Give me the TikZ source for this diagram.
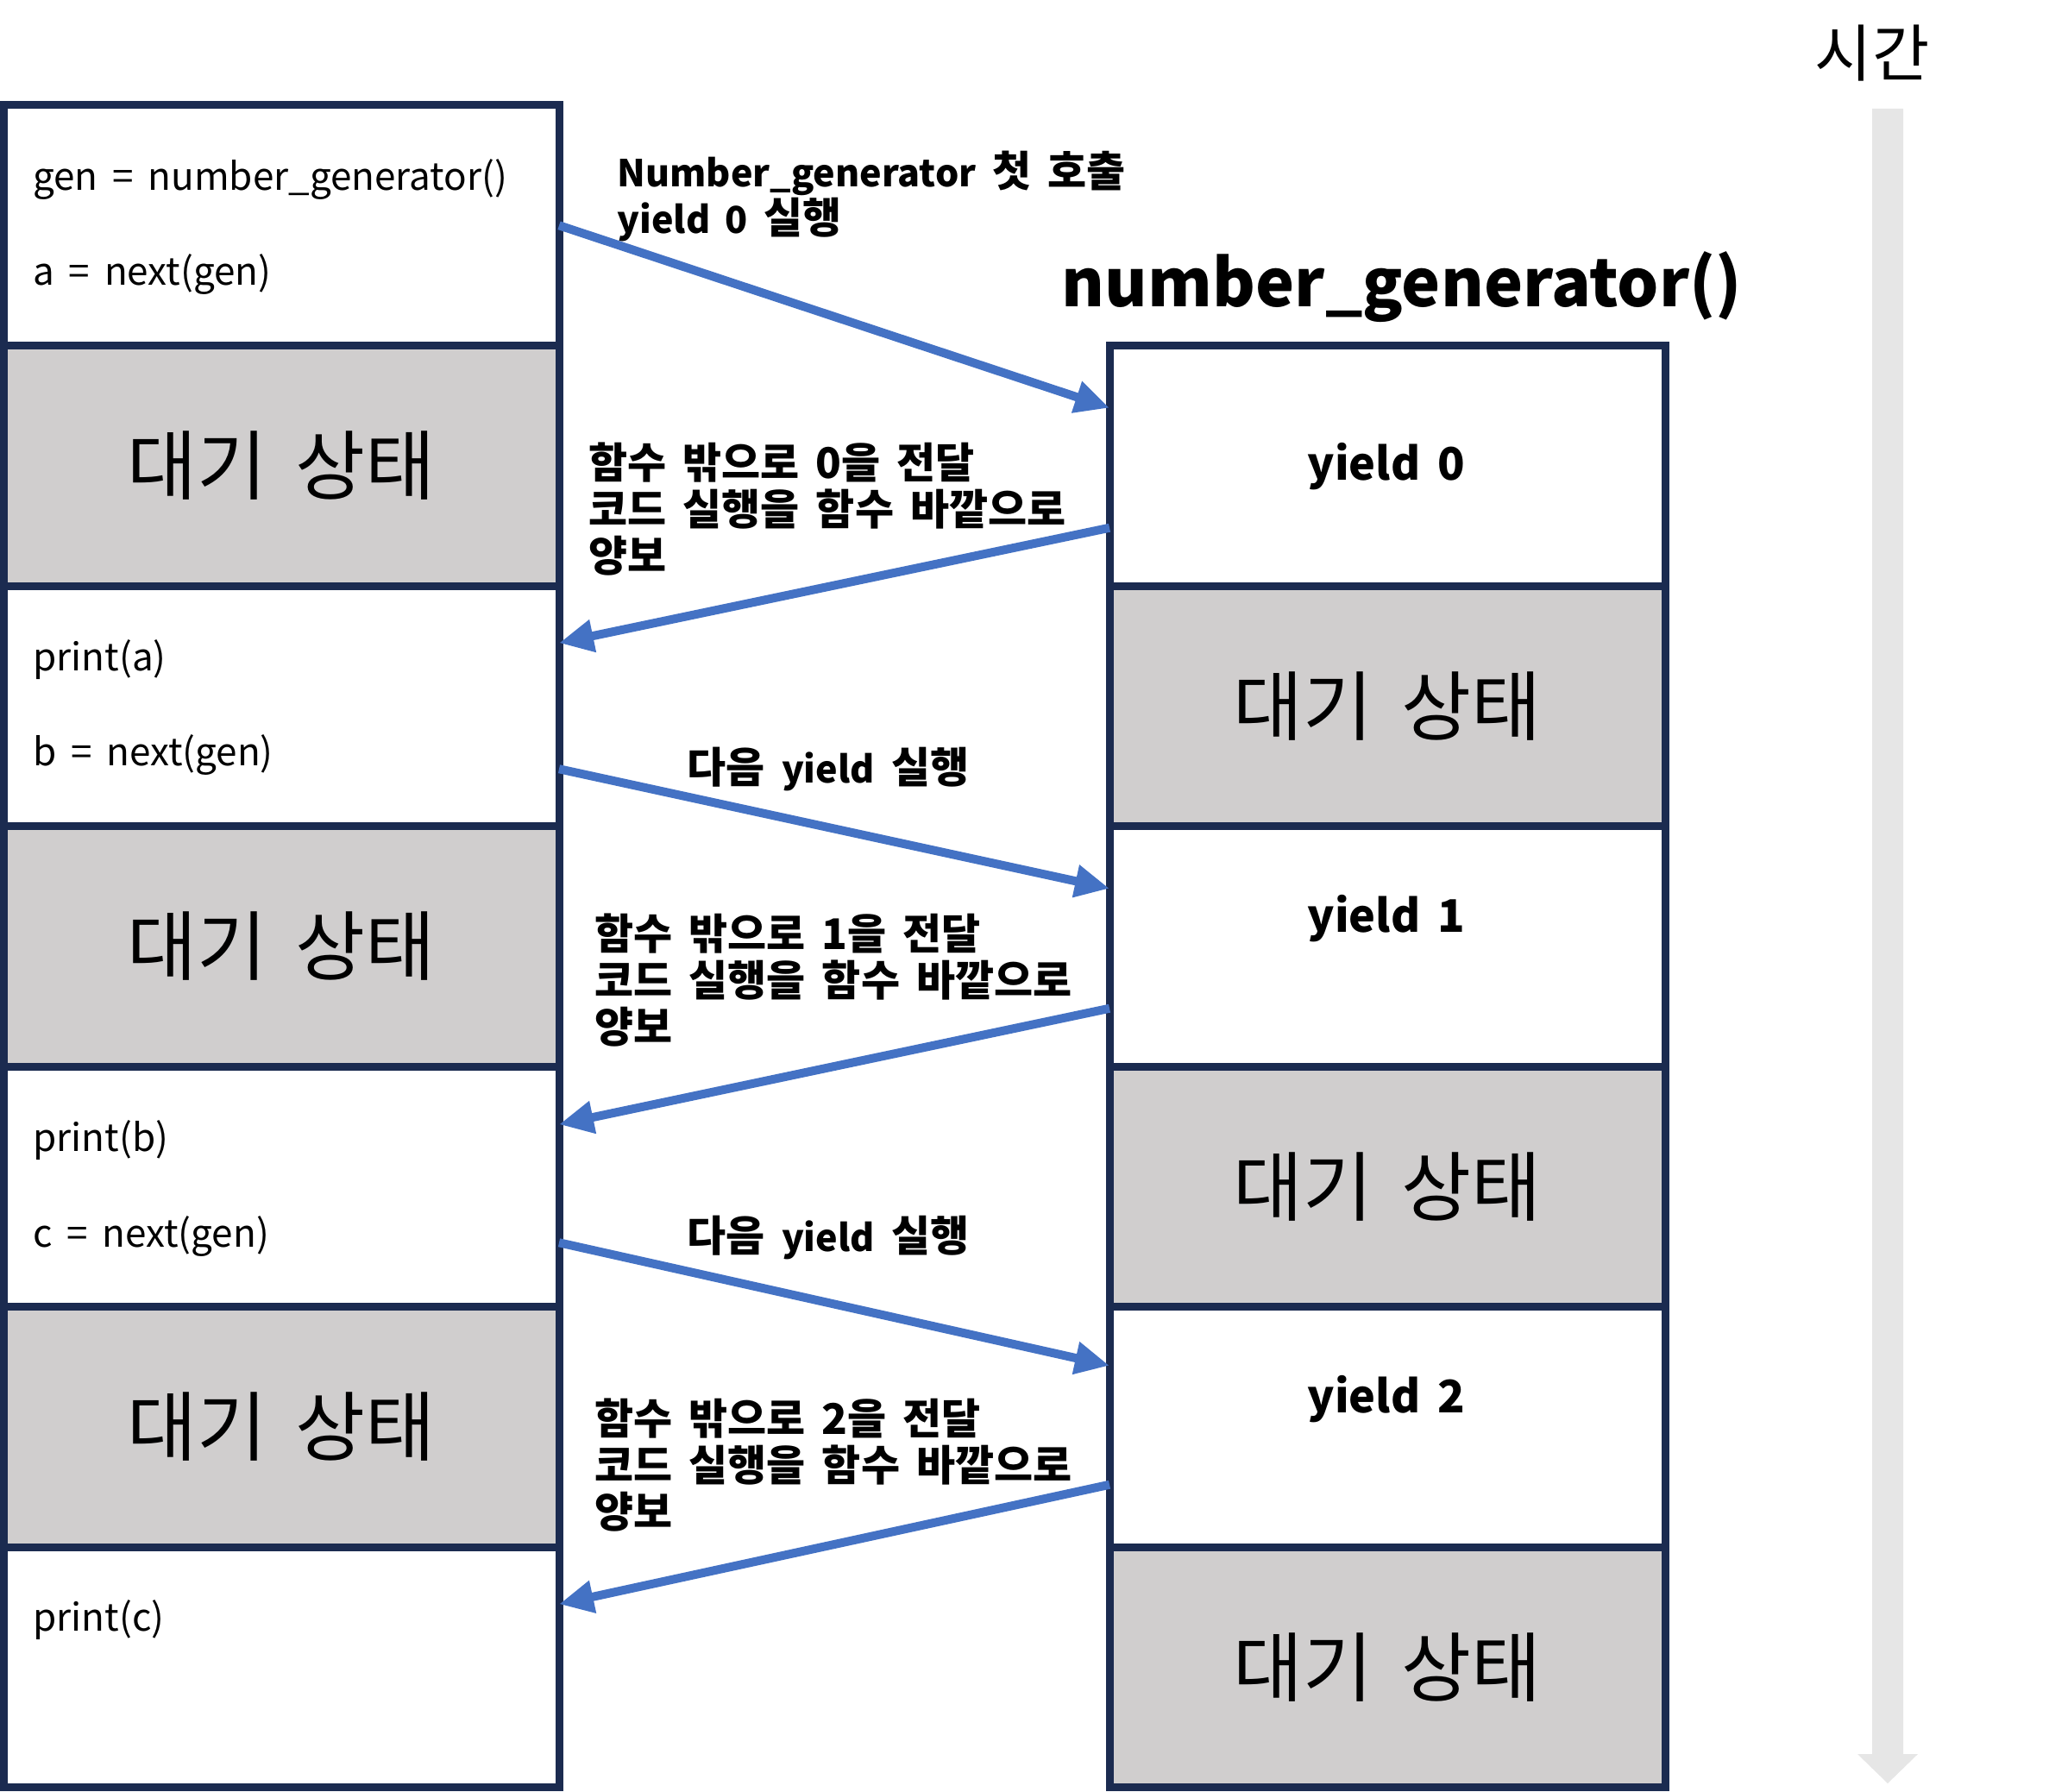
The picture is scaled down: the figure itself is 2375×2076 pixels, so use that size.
\documentclass[tikz,border=0pt]{standalone}
\usepackage{fontspec}
\setmainfont{Noto Sans CJK KR}[WordSpace=1.7]
\usetikzlibrary{arrows.meta,calc}
\definecolor{navy}{HTML}{1B2B50}
\definecolor{waitgray}{HTML}{D0CECE}
\definecolor{arrowblue}{HTML}{4472C4}
\definecolor{timegray}{HTML}{E6E6E6}
\newcommand\latn[1]{{\fontsize{21.5pt}{27pt}\selectfont #1}}
\begin{document}
\begin{tikzpicture}[x=0.5pt,y=-0.5pt,
  cell/.style={draw=navy,line width=4.5pt,minimum width=322pt,minimum height=139.25pt,inner sep=0pt,outer sep=0pt},
  codebox/.style={cell,fill=white},
  waitbox/.style={cell,fill=waitgray,font=\fontsize{44pt}{50pt}\selectfont},
  codetext/.style={anchor=west,inner sep=0pt,font=\fontsize{22pt}{26pt}\selectfont},
  yieldtext/.style={inner sep=0pt,font=\fontsize{26pt}{30pt}\selectfont\bfseries},
  lbl/.style={inner sep=0pt,align=left,font=\fontsize{24.5pt}{27pt}\selectfont\bfseries},
  flow/.style={draw=arrowblue,line width=5pt,-{Triangle[length=20pt,width=18pt]}},
]
\useasboundingbox (0,0) rectangle (2375,2076);
% time arrow
\fill[timegray] (2170,126) -- (2206,126) -- (2206,2033) -- (2223,2033) -- (2188,2067) -- (2153,2033) -- (2170,2033) -- cycle;
\node[font=\fontsize{36pt}{40pt}\selectfont] (time) at (2170,62) {시간};
% left column
\node[codebox] (L1) at (326,261.25) {};
\node[waitbox] (L2) at (326,539.75) {대기 상태};
\node[codebox] (L3) at (326,818.25) {};
\node[waitbox] (L4) at (326,1096.75) {대기 상태};
\node[codebox] (L5) at (326,1375.25) {};
\node[waitbox] (L6) at (326,1653.75) {대기 상태};
\node[codebox] (L7) at (326,1932.25) {};
% right column
\node[codebox] (R1) at (1608,539.75) {};
\node[waitbox] (R2) at (1608,818.25) {대기 상태};
\node[codebox] (R3) at (1608,1096.75) {};
\node[waitbox] (R4) at (1608,1375.25) {대기 상태};
\node[codebox] (R5) at (1608,1653.75) {};
\node[waitbox] (R6) at (1608,1932.25) {대기 상태};
% title
\node[font=\fontsize{38pt}{42pt}\selectfont\bfseries] (title) at (1625,333) {number\_generator()};
% code texts
\node[codetext] (t1) at (38,208) {gen = number\_generator()};
\node[codetext] (t2) at (38,318) {a = next(gen)};
\node[codetext] (t3) at (38,765) {print(a)};
\node[codetext] (t4) at (38,875) {b = next(gen)};
\node[codetext] (t5) at (38,1322) {print(b)};
\node[codetext] (t6) at (38,1433) {c = next(gen)};
\node[codetext] (t7) at (38,1878) {print(c)};
% yields
\node[yieldtext] (y0) at (1607,541) {yield 0};
\node[yieldtext] (y1) at (1607,1065) {yield 1};
\node[yieldtext] (y2) at (1607,1622) {yield 2};
% labels
\node[lbl,anchor=west] (m1) at (715,227.5) {\latn{Number\_generator} 첫 호출\\\latn{yield 0} 실행};
\node[lbl,anchor=west] (m2) at (682,590) {함수 밖으로 0을 전달\\코드 실행을 함수 바깥으로\\양보};
\node[lbl] (m3) at (960,891) {다음 \latn{yield} 실행};
\node[lbl,anchor=west] (m4) at (689,1136) {함수 밖으로 1을 전달\\코드 실행을 함수 바깥으로\\양보};
\node[lbl] (m5) at (960,1434) {다음 \latn{yield} 실행};
\node[lbl,anchor=west] (m6) at (689,1698) {함수 밖으로 2을 전달\\코드 실행을 함수 바깥으로\\양보};
% arrows
\draw[flow] (L1.east) -- ($(R1.west)+(0,-67)$);
\draw[flow] ($(R1.west)+(0,72)$) -- ($(L3.east)+(0,-73)$);
\draw[flow] ($(L3.east)+(0,73)$) -- ($(R3.west)+(0,-67)$);
\draw[flow] ($(R3.west)+(0,72)$) -- ($(L5.east)+(0,-72)$);
\draw[flow] ($(L5.east)+(0,65)$) -- ($(R5.west)+(0,-71)$);
\draw[flow] ($(R5.west)+(0,67)$) -- ($(L7.east)+(0,-73)$);
\end{tikzpicture}
\end{document}
